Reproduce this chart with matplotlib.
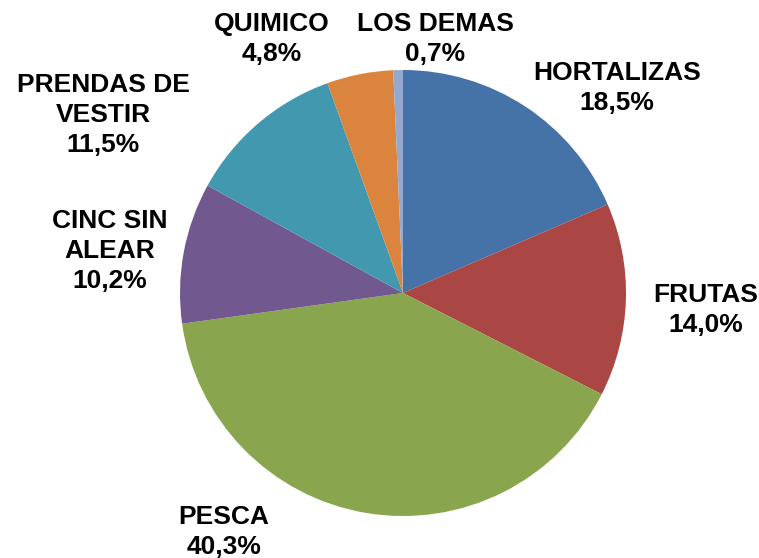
import matplotlib
matplotlib.use("Agg")
import matplotlib.pyplot as plt

# export shares (%)
labels = ["HORTALIZAS", "FRUTAS", "PESCA", "CINC SIN\nALEAR", "PRENDAS DE\nVESTIR", "QUIMICO", "LOS DEMAS"]
values = [18.5, 14.0, 40.3, 10.2, 11.5, 4.8, 0.7]
colors = ["#4572A7", "#AA4643", "#89A54E", "#71588F", "#4198AF", "#DB843D", "#93A9CF"]

# label centres in pixels (x, y from top)
label_pos = [(617, 88), (706, 310), (224, 532), (110, 251), (103, 115), (272, 39), (435, 39)]

W, H = 759, 558
fig = plt.figure(figsize=(W / 100, H / 100), dpi=100)
ax = fig.add_axes([0, 0, 1, 1])

ax.pie(values, colors=colors, startangle=90, counterclock=False,
       center=(403, H - 293), radius=223, frame=True,
       wedgeprops=dict(linewidth=0))
ax.set_xlim(0, W)
ax.set_ylim(0, H)
ax.axis("off")

for lab, v, (px, py) in zip(labels, values, label_pos):
    txt = lab + "\n" + f"{v:.1f}".replace(".", ",") + "%"
    ax.text(px, H - py, txt, ha="center", va="center", fontsize=19,
            fontweight="bold", family="Liberation Sans", linespacing=1.32)

plt.savefig("out.png", dpi=100)
